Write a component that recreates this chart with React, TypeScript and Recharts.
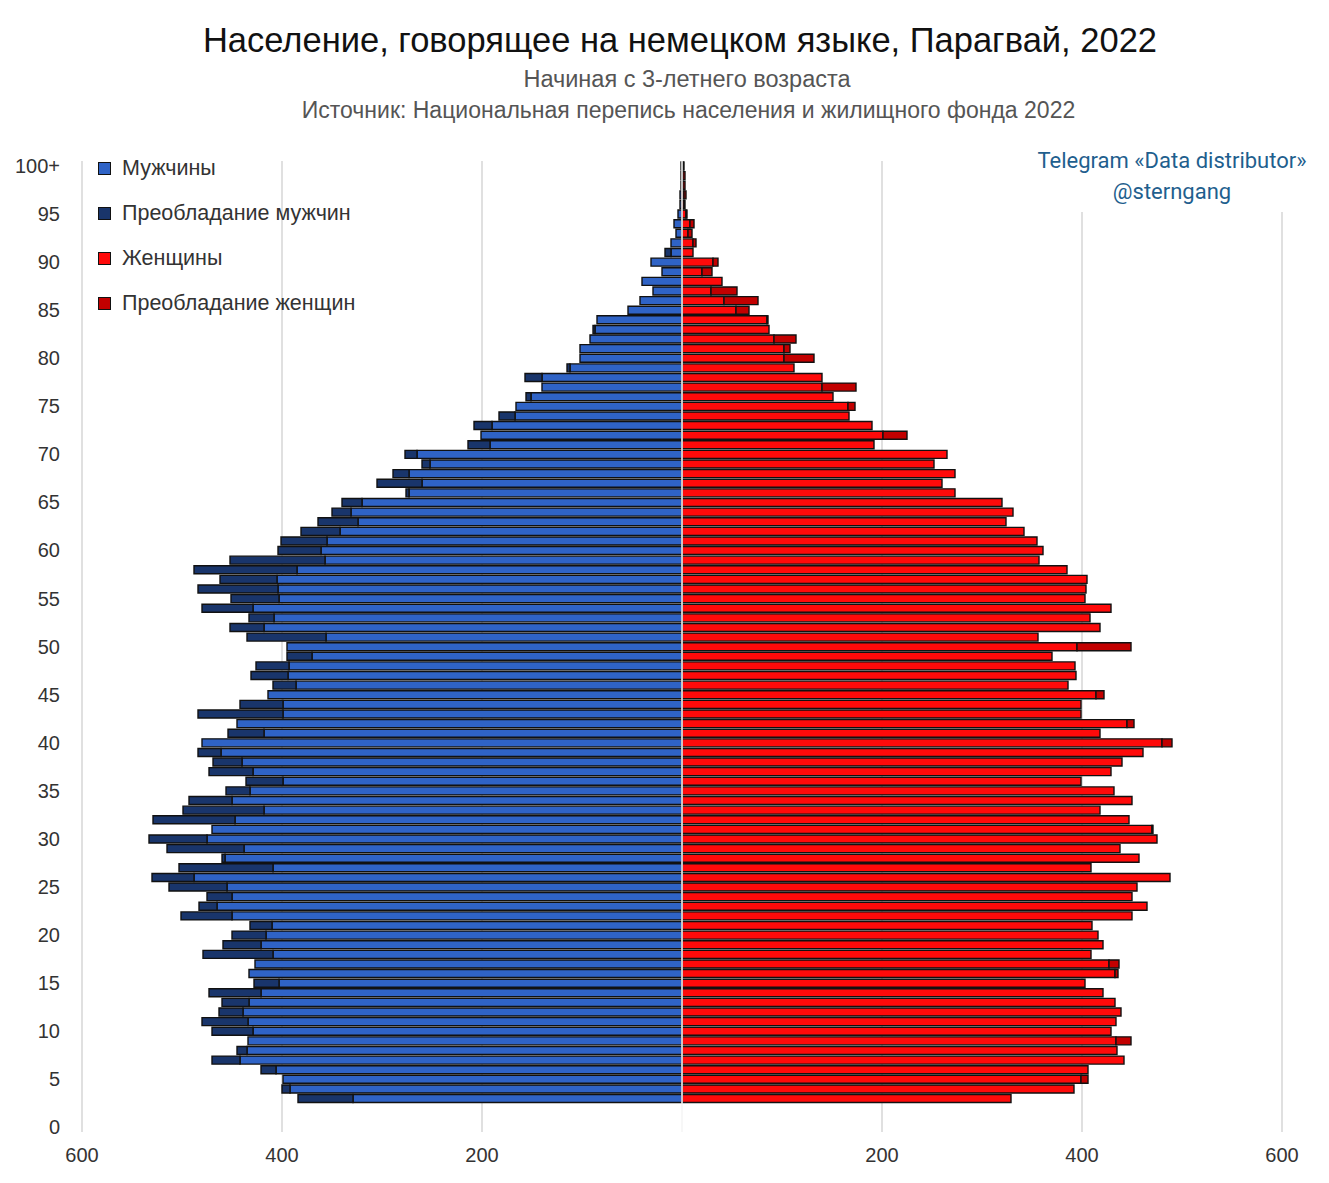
import { Bar, BarChart, CartesianGrid, ReferenceLine, XAxis, YAxis } from "recharts";

// Ages from the top of the pyramid (100+) down to 0; ages 0–2 carry no data
const ages = [
  100, 99, 98, 97, 96, 95, 94, 93, 92, 91, 90, 89, 88, 87, 86, 85, 84, 83, 82, 81,
  80, 79, 78, 77, 76, 75, 74, 73, 72, 71, 70, 69, 68, 67, 66, 65, 64, 63, 62, 61,
  60, 59, 58, 57, 56, 55, 54, 53, 52, 51, 50, 49, 48, 47, 46, 45, 44, 43, 42, 41,
  40, 39, 38, 37, 36, 35, 34, 33, 32, 31, 30, 29, 28, 27, 26, 25, 24, 23, 22, 21,
  20, 19, 18, 17, 16, 15, 14, 13, 12, 11, 10, 9, 8, 7, 6, 5, 4, 3, 2, 1, 0,
];

// German speakers by single year of age, 100+ down to 3
const male = [
  1, 1, 1, 2, 2, 4, 8, 6, 11, 17, 31, 20, 40, 29, 42, 54, 85, 89, 92, 102,
  102, 115, 157, 140, 156, 166, 183, 208, 201, 214, 277, 260, 289, 305, 276, 340, 350, 364, 381, 401,
  404, 452, 488, 462, 484, 451, 480, 433, 452, 435, 395, 395, 426, 431, 409, 414, 442, 484, 445, 454,
  480, 484, 469, 473, 436, 456, 493, 499, 529, 470, 533, 515, 460, 503, 530, 513, 475, 483, 501, 432,
  450, 459, 479, 427, 433, 428, 473, 460, 463, 480, 470, 434, 445, 470, 421, 399, 400, 384,
];

const female = [
  2, 3, 3, 4, 3, 5, 12, 10, 14, 11, 36, 30, 40, 55, 76, 67, 86, 87, 114, 108,
  132, 112, 140, 174, 151, 173, 167, 190, 225, 192, 265, 252, 273, 260, 273, 320, 331, 324, 342, 355,
  361, 357, 385, 405, 404, 403, 429, 408, 418, 356, 449, 370, 393, 394, 386, 422, 399, 399, 452, 418,
  490, 461, 440, 429, 399, 432, 450, 418, 447, 471, 475, 438, 457, 409, 488, 455, 450, 465, 450, 410,
  416, 421, 409, 437, 436, 403, 421, 433, 439, 434, 429, 449, 435, 442, 406, 406, 392, 329,
];

const xTicks = [-600, -400, -200, 0, 200, 400, 600];

const COLORS = {
  male: "#2f63c6",
  maleExcess: "#19356b",
  female: "#ff0a0a",
  femaleExcess: "#c20000",
};

const legendItems = [
  { label: "Мужчины", color: COLORS.male },
  { label: "Преобладание мужчин", color: COLORS.maleExcess },
  { label: "Женщины", color: COLORS.female },
  { label: "Преобладание женщин", color: COLORS.femaleExcess },
];

const rows = ages.map((age, i) => {
  const label = age === 100 ? "100+" : String(age);
  const m = male[i];
  const f = female[i];
  if (m === undefined || f === undefined) {
    return { label, maleBase: null, maleExcess: null, femaleBase: null, femaleExcess: null };
  }
  const base = Math.min(m, f);
  return {
    label,
    maleBase: -base,
    maleExcess: m > f ? -(m - f) : null,
    femaleBase: base,
    femaleExcess: f > m ? f - m : null,
  };
});

const FONT = "'Liberation Sans', Arial, sans-serif";

export default function App() {
  return (
    <div style={{ position: "relative", width: 1329, height: 1183, background: "#fff", fontFamily: FONT }}>
      <style>{`body{margin:0}`}</style>

      <div style={{ position: "absolute", top: 21, left: 0, width: 1360, textAlign: "center", fontSize: 34.5, color: "#111" }}>
        Население, говорящее на немецком языке, Парагвай, 2022
      </div>
      <div style={{ position: "absolute", top: 66, left: 0, width: 1374, textAlign: "center", fontSize: 23.5, color: "#555" }}>
        Начиная с 3-летнего возраста
      </div>
      <div style={{ position: "absolute", top: 97, left: 0, width: 1377, textAlign: "center", fontSize: 23, color: "#555" }}>
        Источник: Национальная перепись населения и жилищного фонда 2022
      </div>

      <BarChart
        width={1329}
        height={1183}
        data={rows}
        layout="vertical"
        stackOffset="sign"
        barCategoryGap={1}
        margin={{ top: 161, right: 47, bottom: 21, left: 22 }}
      >
        <CartesianGrid horizontal={false} stroke="#d6d6d6" strokeWidth={1.5} />
        <XAxis
          type="number"
          domain={[-600, 600]}
          ticks={xTicks}
          tickFormatter={(v: number) => (v === 0 ? "" : String(Math.abs(v)))}
          axisLine={false}
          tickLine={false}
          tickMargin={10}
          height={30}
          tick={{ fill: "#333", fontSize: 20, fontFamily: FONT }}
        />
        <YAxis
          type="category"
          dataKey="label"
          interval={4}
          width={60}
          axisLine={false}
          tickLine={false}
          tickMargin={16}
          tick={{ fill: "#333", fontSize: 20, fontFamily: FONT }}
        />
        <Bar dataKey="maleBase" stackId="a" fill={COLORS.male} stroke="#111" strokeWidth={1.4} isAnimationActive={false} />
        <Bar dataKey="maleExcess" stackId="a" fill={COLORS.maleExcess} stroke="#111" strokeWidth={1.4} isAnimationActive={false} />
        <Bar dataKey="femaleBase" stackId="a" fill={COLORS.female} stroke="#111" strokeWidth={1.4} isAnimationActive={false} />
        <Bar dataKey="femaleExcess" stackId="a" fill={COLORS.femaleExcess} stroke="#111" strokeWidth={1.4} isAnimationActive={false} />
        <ReferenceLine x={0} stroke="#ffffff" strokeWidth={1.5} />
      </BarChart>

      <div style={{ position: "absolute", left: 98, top: 146 }}>
        {legendItems.map((item) => (
          <div key={item.label} style={{ display: "flex", alignItems: "center", height: 45 }}>
            <span
              style={{
                display: "inline-block",
                width: 11,
                height: 11,
                background: item.color,
                border: "1.5px solid #111",
                marginRight: 11,
              }}
            />
            <span style={{ fontSize: 21.5, color: "#333", lineHeight: "45px" }}>{item.label}</span>
          </div>
        ))}
      </div>

      <div
        style={{
          position: "absolute",
          left: 1030,
          top: 145,
          width: 284,
          height: 67,
          background: "#fff",
          textAlign: "center",
          fontFamily: "Roboto, sans-serif",
          fontSize: 22,
          lineHeight: "31px",
          color: "#1f5f8e",
        }}
      >
        Telegram «Data distributor»
        <br />
        @sterngang
      </div>
    </div>
  );
}
